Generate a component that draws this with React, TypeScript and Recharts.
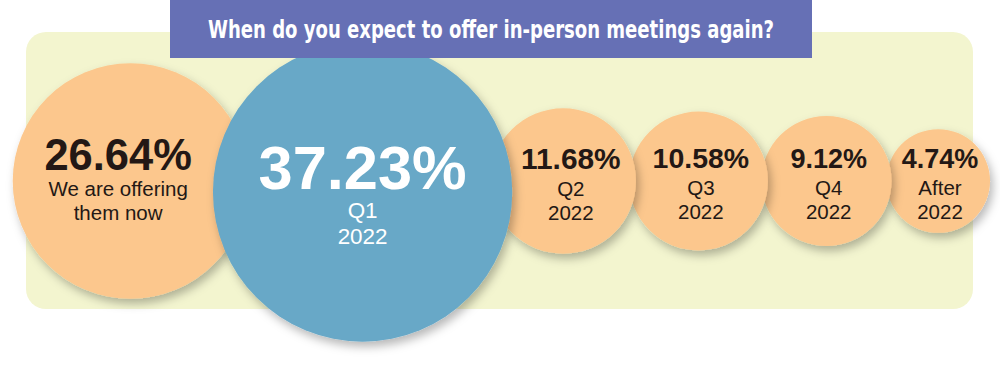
import React from 'react';
import { ScatterChart, Scatter, XAxis, YAxis, ZAxis } from 'recharts';

const TITLE = 'When do you expect to offer in-person meetings again?';
const shares = [26.64, 37.23, 11.68, 10.58, 9.12, 4.74];
const topLines = ['We are offering', 'Q1', 'Q2', 'Q3', 'Q4', 'After'];
const bottomLines = ['them now', '2022', '2022', '2022', '2022', '2022'];

const W = 1000;
const H = 365;
// z axis maps a share straight to a radius in px
const Z_DOMAIN = [0, 40];
const Z_RANGE = [37.6, 158];
const ROW_Y = 181;
const LEFT_EDGE = 12.7;
const HIGHLIGHT_DROP = 11;

const ORANGE = '#fcc78d';
const BLUE = '#68a8c7';
const INK = '#231815';
const PANEL = '#f3f5cf';
const BAR = '#6670b5';
const SANS = '"Liberation Sans", Arial, sans-serif';

const radiusOf = (v: number) =>
  Z_RANGE[0] + ((Z_RANGE[1] - Z_RANGE[0]) * (v - Z_DOMAIN[0])) / (Z_DOMAIN[1] - Z_DOMAIN[0]);

const hi = shares.indexOf(Math.max(...shares));

// pack the bubbles left to right, each one overlapping its neighbour a bit
const radii = shares.map(radiusOf);
const overlaps = radii.slice(1).map((r, i) => {
  const frac = i === hi || i + 1 === hi ? 0.3 : 0.1;
  return frac * Math.min(radii[i], r);
});
const centers: number[] = [];
radii.forEach((r, i) => {
  centers.push(i === 0 ? LEFT_EDGE + r : centers[i - 1] + radii[i - 1] + r - overlaps[i - 1]);
});

// bigger bubbles sit on top, so draw smallest first
const data = shares
  .map((value, i) => {
    const coverLeft = i > 0 && shares[i - 1] > value ? overlaps[i - 1] : 0;
    const coverRight = i < shares.length - 1 && shares[i + 1] > value ? overlaps[i] : 0;
    return {
      value,
      x: centers[i],
      y: i === hi ? HIGHLIGHT_DROP : 0,
      top: topLines[i],
      bottom: bottomLines[i],
      highlight: i === hi,
      shift: (coverLeft - coverRight) * 0.35,
      covered: coverRight > 0,
    };
  })
  .sort((a, b) => a.value - b.value);

const Bubble = (props: any) => {
  const { cx, cy, size, payload } = props;
  const r = size;
  const ink = payload.highlight ? '#ffffff' : INK;
  const f = Math.max(27, 0.41 * r) * (payload.covered ? 0.9 : 1);
  const l = Math.max(20.5, 0.15 * r);
  // partly hidden bubbles get their text nudged up a little
  const pct = cy + 2 - (2.42 * l - 0.72 * f) / 2 - (payload.covered ? 4 : 0);
  const tx = cx + payload.shift;
  return (
    <g>
      <circle cx={cx} cy={cy} r={r} fill={payload.highlight ? BLUE : ORANGE} filter="url(#bubble-shadow)" />
      <text x={tx} y={pct} textAnchor="middle" fill={ink} fontSize={f} fontWeight={700} fontFamily={SANS}>
        {payload.value.toFixed(2)}%
      </text>
      <text x={tx} y={pct + 1.3 * l} textAnchor="middle" fill={ink} fontSize={l} fontFamily={SANS}>
        {payload.top}
      </text>
      <text x={tx} y={pct + 2.47 * l} textAnchor="middle" fill={ink} fontSize={l} fontFamily={SANS}>
        {payload.bottom}
      </text>
    </g>
  );
};

export default function App() {
  return (
    <div style={{ position: 'absolute', left: 0, top: 0, width: W, height: H, background: '#fff' }}>
      <svg width={0} height={0} style={{ position: 'absolute' }}>
        <defs>
          <filter id="bubble-shadow" x="-20%" y="-20%" width="150%" height="150%">
            <feDropShadow dx={3} dy={5} stdDeviation={5} floodColor="#000" floodOpacity={0.28} />
          </filter>
        </defs>
      </svg>
      <div
        style={{
          position: 'absolute', left: 26, top: 32, width: 947, height: 277,
          borderRadius: 20, background: PANEL,
        }}
      />
      <div style={{ position: 'absolute', left: 0, top: 0 }}>
        <ScatterChart width={W} height={H} margin={{ top: 0, right: 0, bottom: 0, left: 0 }}>
          <XAxis type="number" dataKey="x" domain={[0, W]} hide />
          <YAxis type="number" dataKey="y" domain={[-ROW_Y, H - ROW_Y]} reversed hide />
          <ZAxis type="number" dataKey="value" domain={Z_DOMAIN} range={Z_RANGE} />
          <Scatter data={data} shape={Bubble} isAnimationActive={false} />
        </ScatterChart>
      </div>
      <svg width={W} height={60} style={{ position: 'absolute', left: 0, top: 0 }}>
        <rect x={170} y={0} width={642} height={58} fill={BAR} />
        <text
          x={491} y={38} textAnchor="middle" fill="#fff" fontSize={24} fontWeight={700}
          fontFamily='"DejaVu Sans Condensed", "Liberation Sans", sans-serif'
          textLength={566} lengthAdjust="spacingAndGlyphs"
        >
          {TITLE}
        </text>
      </svg>
    </div>
  );
}
